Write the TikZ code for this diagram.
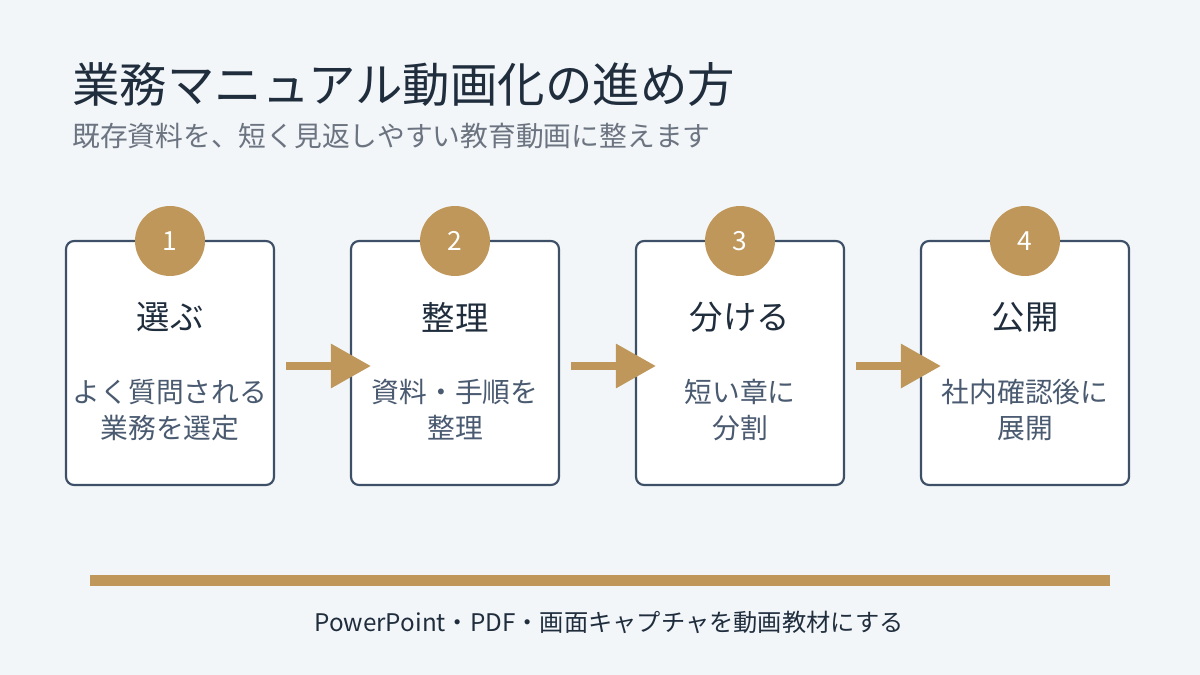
\documentclass[tikz,border=0pt]{standalone}
\usepackage{fontspec}
\setmainfont{Noto Sans CJK JP}
\usetikzlibrary{arrows.meta}
\definecolor{bg}{HTML}{F3F6F9}
\definecolor{gold}{HTML}{C0975A}
\definecolor{navy}{HTML}{3D5068}
\definecolor{ttl}{HTML}{1F2D3D}
\definecolor{sub}{HTML}{6B7480}
\definecolor{body}{HTML}{4A5A70}
\begin{document}
\begin{tikzpicture}[x=0.02cm,y=-0.02cm,
  box/.style={draw=navy,line width=2.2pt*0.567,fill=white,rounded corners=0.16cm,minimum width=4.16cm,minimum height=4.88cm,inner sep=0pt},
  num/.style={circle,fill=gold,minimum size=1.4cm,inner sep=0pt,text=white,font=\fontsize{15}{15}\selectfont},
  head/.style={text=ttl,font=\fontsize{19}{19}\selectfont},
  txt/.style={text=body,font=\fontsize{15.8}{20.5}\selectfont,align=center},
  arr/.style={draw=gold,line width=0.16cm,-{Triangle[length=0.8cm,width=0.85cm]}}]
\fill[bg] (0,0) rectangle (1200,675);
\useasboundingbox (0,0) rectangle (1200,675);
\node[anchor=west,text=ttl,font=\fontsize{27}{27}\selectfont,inner sep=0pt] (title) at (72,85) {業務マニュアル動画化の進め方};
\node[anchor=west,text=sub,font=\fontsize{15.8}{16}\selectfont,inner sep=0pt] (subt) at (72,136) {既存資料を、短く見返しやすい教育動画に整えます};
\foreach \i/\x/\h/\t in {1/170/選ぶ/よく質問される\\業務を選定,2/455/整理/資料・手順を\\整理,3/740/分ける/短い章に\\分割,4/1025/公開/社内確認後に\\展開}{
  \node[box] (b\i) at (\x,363) {};
  \node[num] (n\i) at (\x,241) {\i};
  \node[head] (h\i) at (\x,317) {\h};
  \node[txt] (t\i) at (\x,410) {\t};
}
\foreach \a/\b in {1/2,2/3,3/4}{
  \draw[arr] ([xshift=0.22cm,yshift=-0.06cm]b\a.east) -- ([xshift=0.42cm,yshift=-0.06cm]b\b.west);
}
\fill[gold] (90,575) rectangle (1110,586);
\node[text=ttl,font=\fontsize{13.8}{14}\selectfont] (foot) at (609,622) {PowerPoint・PDF・画面キャプチャを動画教材にする};
\end{tikzpicture}
\end{document}
